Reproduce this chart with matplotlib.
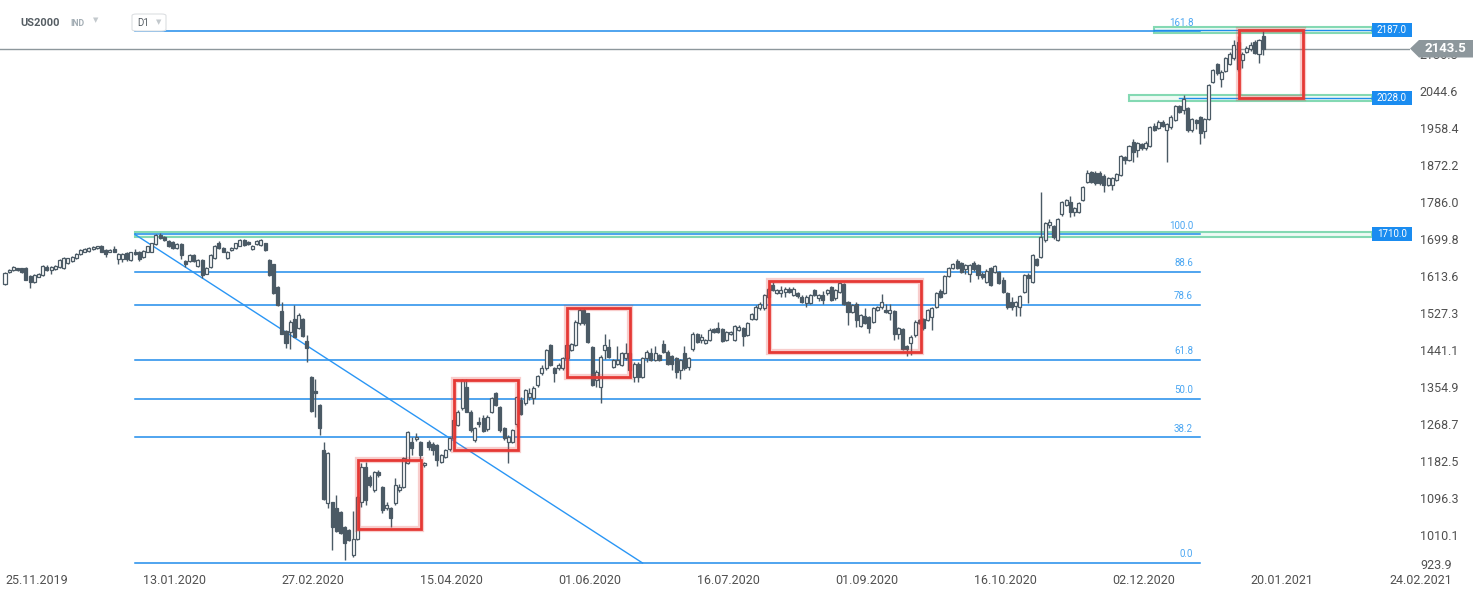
import matplotlib
matplotlib.use("Agg")
import matplotlib.pyplot as plt
from matplotlib.patches import Rectangle, Polygon, FancyBboxPatch

plt.rcParams['font.family'] = ['Roboto', 'DejaVu Sans']

# ---------------- data (daily candles, index 0 = 25.11.2019) ----------------
opens = [1594,1623,1627,1631,1631,1633,1613,1600,1612,1615,1635,1627,1629,1635,1631,1643,1648,1654,1664,1670,
         1671,1676,1678,1684,1674,1670,1676,1652,1652,1666,1650,1670,1670,1658,1670,1670,1687,1709,1703,1695,
         1693,1678,1687,1647,1647,1662,1637,1650,1619,1635,1654,1689,1679,1654,1674,1678,1684,1697,1692,1676,
         1687,1685,1689,1650,1640,1588,1531,1485,1483,1512,1491,1514,1462,1378,1345,1312,1207,1083,1085,1073,
         1062,1029,1021,963,1001,1085,1168,1145,1114,1157,1122,1073,1071,1083,1114,1122,1176,1225,1233,1227,
         1172,1227,1221,1219,1179,1192,1210,1235,1266,1305,1355,1297,1231,1273,1283,1256,1297,1340,1308,1259,
         1227,1227,1267,1324,1318,1330,1328,1359,1386,1398,1452,1399,1398,1398,1421,1441,1452,1503,1535,1526,
         1448,1371,1355,1441,1448,1402,1409,1406,1421,1433,1378,1409,1378,1421,1433,1417,1429,1455,1437,1427,
         1421,1394,1434,1402,1442,1478,1464,1458,1464,1489,1491,1489,1464,1478,1464,1487,1491,1476,1514,1514,
         1538,1538,1565,1592,1574,1574,1577,1584,1569,1573,1565,1551,1551,1581,1561,1569,1573,1588,1561,1577,
         1594,1553,1530,1549,1497,1520,1518,1507,1535,1540,1535,1526,1532,1479,1489,1450,1456,1475,1511,1512,
         1511,1518,1542,1579,1574,1613,1633,1649,1643,1629,1618,1644,1639,1619,1600,1631,1623,1623,1604,1574,
         1553,1544,1542,1577,1616,1600,1652,1658,1697,1732,1730,1697,1757,1779,1786,1763,1763,1790,1833,1856,
         1854,1854,1846,1825,1825,1837,1849,1891,1884,1926,1907,1921,1911,1916,1963,1958,1973,1954,1960,1977,
         2010,2001,2004,1954,1977,1983,1952,1979,2066,2108,2072,2092,2108,2121,2160,2118,2136,2142,2160,2132,
         2173]
highs = [1623,1630,1637,1633,1633,1635,1615,1617,1621,1639,1638,1637,1639,1652,1658,1656,1660,1666,1676,1678,
         1680,1683,1684,1686,1676,1676,1684,1666,1667,1668,1670,1676,1672,1673,1684,1691,1712,1713,1706,1697,
         1695,1690,1689,1650,1664,1665,1652,1652,1635,1664,1686,1694,1681,1672,1681,1691,1699,1699,1694,1686,
         1697,1699,1691,1652,1642,1590,1553,1488,1510,1546,1527,1516,1475,1380,1373,1314,1225,1203,1087,1103,
         1065,1031,1023,1064,1100,1178,1180,1150,1158,1160,1124,1085,1075,1143,1128,1190,1251,1238,1247,1229,
         1180,1230,1225,1221,1198,1210,1238,1280,1300,1374,1374,1300,1262,1285,1290,1288,1331,1343,1310,1262,
         1242,1257,1333,1330,1350,1353,1356,1383,1405,1444,1455,1402,1410,1424,1455,1458,1510,1538,1538,1528,
         1451,1393,1428,1478,1466,1420,1450,1436,1456,1436,1412,1412,1425,1440,1445,1450,1432,1464,1440,1430,
         1424,1420,1451,1424,1482,1481,1479,1467,1493,1492,1505,1492,1486,1486,1500,1498,1494,1506,1527,1545,
         1552,1572,1585,1600,1583,1590,1587,1587,1587,1576,1568,1568,1572,1584,1572,1578,1584,1591,1584,1599,
         1597,1556,1548,1552,1525,1538,1521,1541,1544,1571,1549,1549,1535,1494,1492,1453,1475,1510,1514,1515,
         1537,1541,1577,1582,1616,1634,1644,1652,1646,1642,1642,1647,1642,1622,1629,1634,1639,1626,1612,1577,
         1564,1556,1570,1619,1620,1665,1655,1810,1740,1745,1733,1748,1789,1793,1800,1774,1786,1824,1860,1859,
         1857,1857,1850,1844,1844,1854,1895,1894,1919,1933,1926,1924,1927,1963,1970,1976,1978,1971,1988,2013,
         2013,2035,2007,1982,1980,1986,1982,2062,2096,2111,2093,2124,2135,2163,2173,2135,2150,2160,2163,2167,
         2187]
lows = [1592,1620,1625,1625,1621,1603,1586,1598,1610,1613,1625,1619,1627,1633,1629,1641,1646,1652,1662,1668,
        1669,1674,1676,1668,1658,1668,1668,1640,1645,1648,1648,1662,1648,1656,1668,1668,1685,1699,1695,1680,
        1676,1676,1653,1635,1645,1645,1635,1609,1617,1633,1652,1677,1668,1652,1672,1676,1682,1683,1686,1674,
        1685,1683,1672,1613,1571,1544,1477,1446,1444,1470,1489,1471,1413,1297,1285,1242,1091,1071,974,1017,
        1011,951,996,959,998,1075,1080,1120,1110,1145,1060,1068,1029,1080,1110,1118,1174,1196,1228,1184,
        1168,1208,1195,1170,1176,1188,1205,1232,1263,1300,1295,1250,1225,1262,1250,1252,1294,1309,1250,1230,
        1176,1224,1262,1288,1312,1325,1315,1355,1383,1395,1403,1367,1395,1395,1418,1438,1449,1500,1500,1456,
        1356,1355,1318,1420,1423,1399,1405,1403,1418,1391,1367,1366,1375,1413,1414,1414,1414,1434,1406,1394,
        1376,1374,1395,1393,1439,1457,1458,1455,1461,1480,1480,1459,1461,1475,1461,1484,1450,1473,1511,1511,
        1535,1535,1562,1578,1571,1565,1564,1574,1566,1563,1550,1540,1548,1566,1556,1548,1570,1554,1558,1574,
        1546,1500,1527,1495,1494,1501,1481,1504,1532,1537,1527,1510,1465,1466,1441,1426,1430,1472,1501,1488,
        1508,1488,1539,1562,1571,1610,1630,1630,1620,1619,1600,1626,1606,1606,1597,1589,1620,1595,1574,1537,
        1535,1520,1520,1574,1550,1597,1636,1655,1693,1725,1700,1694,1754,1776,1750,1752,1760,1787,1830,1830,
        1826,1826,1810,1822,1814,1834,1846,1875,1881,1880,1890,1908,1908,1913,1951,1955,1960,1878,1957,1974,
        1993,1990,1950,1950,1955,1920,1935,1976,2063,2083,2055,2089,2105,2118,2092,2098,2133,2139,2131,2110,
        2128]
closes = [1621,1627,1635,1627,1623,1605,1600,1615,1619,1637,1627,1635,1637,1650,1656,1654,1658,1664,1674,1676,
          1678,1681,1682,1670,1664,1674,1670,1664,1664,1652,1668,1664,1652,1671,1682,1689,1709,1701,1697,1682,
          1679,1687,1661,1640,1662,1647,1650,1615,1633,1662,1684,1679,1670,1670,1679,1689,1697,1685,1688,1684,
          1695,1697,1674,1615,1573,1546,1479,1458,1507,1472,1522,1473,1446,1299,1340,1259,1093,1200,1029,1019,
          1013,990,998,1001,1098,1168,1090,1126,1155,1148,1067,1079,1048,1126,1122,1188,1249,1213,1238,1196,
          1176,1215,1207,1184,1196,1207,1235,1277,1297,1371,1297,1254,1258,1267,1252,1285,1328,1312,1254,1235,
          1238,1254,1331,1292,1347,1341,1353,1380,1398,1441,1406,1388,1406,1421,1452,1455,1507,1535,1503,1460,
          1359,1390,1425,1452,1425,1417,1417,1433,1433,1394,1409,1378,1421,1437,1417,1433,1417,1437,1409,1409,
          1390,1417,1398,1421,1479,1460,1470,1464,1487,1483,1483,1462,1483,1483,1497,1495,1473,1503,1524,1542,
          1549,1569,1582,1581,1580,1580,1584,1577,1584,1566,1553,1565,1569,1569,1569,1557,1581,1557,1581,1596,
          1549,1530,1545,1511,1522,1504,1491,1538,1541,1553,1530,1534,1479,1491,1444,1442,1472,1507,1504,1491,
          1534,1538,1574,1565,1613,1631,1641,1633,1623,1639,1639,1629,1616,1612,1626,1592,1636,1598,1577,1540,
          1542,1552,1567,1616,1608,1662,1639,1705,1737,1740,1705,1745,1786,1790,1763,1771,1783,1821,1853,1833,
          1829,1829,1825,1841,1841,1851,1892,1884,1916,1903,1923,1911,1924,1960,1954,1973,1963,1968,1985,2010,
          1996,2025,1954,1979,1969,1946,1979,2059,2093,2086,2090,2121,2132,2152,2095,2132,2146,2152,2134,2164,
          2143.5]

date_labels = ["25.11.2019", "13.01.2020", "27.02.2020", "15.04.2020", "01.06.2020", "16.07.2020",
               "01.09.2020", "16.10.2020", "02.12.2020", "20.01.2021", "24.02.2021"]
date_label_bars = [0, 33, 66, 99, 132, 165, 198, 231, 264, 297, 330]

price_ticks = [1010.1, 1096.3, 1182.5, 1268.7, 1354.9, 1441.1, 1527.3, 1613.6, 1699.8,
               1786.0, 1872.2, 1958.4, 2044.6, 2130.8]
bottom_price_label = 923.9

fib_ratios = [0.0, 38.2, 50.0, 61.8, 78.6, 88.6, 100.0, 161.8]
fib_low, fib_high = 944.0, 1710.0
fib_start_bar, fib_end_bar, fib_low_bar = 31, 285, 152

hlines = [2187.0, 2028.0, 1710.0]
hline_start_bars = [274, 268, 31]
last_price = 2143.5

# red boxes: (bar_start, bar_end, price_low, price_high)
red_boxes = [(84.2, 99.3, 1023, 1184), (107.1, 122.2, 1207, 1371), (133.9, 149.0, 1377, 1538),
             (182.2, 218.3, 1437, 1602), (294.2, 309.4, 2029, 2187)]

# ---------------- figure ----------------
W, H = 1482, 598
fig = plt.figure(figsize=(W / 100, H / 100), dpi=100)
fig.patch.set_facecolor('white')
ax_bottom_px = 572
ax = fig.add_axes([0, (H - ax_bottom_px) / H, 1410 / W, ax_bottom_px / H])
px_per_bar = 4.194
ppu = 2.332  # price units per pixel
ax.set_xlim(-5 / px_per_bar, 1405 / px_per_bar)
ax.set_ylim(2044.6 - (ax_bottom_px - 91) * ppu, 2044.6 + 91 * ppu)
for s in ax.spines.values():
    s.set_visible(False)

dark = '#4b5a65'
n = len(closes)
idx = list(range(n))
# wicks
ax.vlines(idx, lows, highs, color=dark, lw=1.0, zorder=3)
# bodies
for i in idx:
    o, c = opens[i], closes[i]
    lo, hi = min(o, c), max(o, c)
    if hi - lo < 2.5:
        hi = lo + 2.5
    up = c >= o
    ax.add_patch(Rectangle((i - 0.36, lo), 0.72, hi - lo,
                           facecolor='white' if up else dark, edgecolor=dark, lw=0.9, zorder=4))

# fib lines
fib_blue = '#1f8ceb'
for r in fib_ratios:
    lvl = fib_low + (fib_high - fib_low) * r / 100.0
    ax.plot([fib_start_bar, fib_end_bar], [lvl, lvl], color=fib_blue, lw=1.1, zorder=2)
    ax.annotate(f"{r:.1f}", xy=(283.3, lvl), xytext=(0, 2.5), textcoords='offset points',
                ha='right', va='bottom', fontsize=7, color='#4aa6f2', zorder=5)
# diagonal trend line of the fib tool
ax.plot([fib_start_bar, fib_low_bar], [fib_high, fib_low], color='#2a96f5', lw=1.0, zorder=2)

# horizontal levels (green highlighted bands) + blue labels
band_h = 5.5 * ppu
right_bar = 326
for lvl, sb in zip(hlines, hline_start_bars):
    ax.add_patch(Rectangle((sb, lvl - band_h / 2), right_bar - sb, band_h, facecolor='#eefaf4',
                           edgecolor='#84d9b3', lw=1.5, zorder=1))
    if lvl != 1710.0:
        ax.plot([sb + (12 if lvl == 2028.0 else 0), right_bar], [lvl, lvl], color=fib_blue, lw=1.0, zorder=2)
    bh = 14 * ppu
    ax.add_patch(Rectangle((right_bar, lvl - bh / 2), 9.4, bh, facecolor='#1a8cf0',
                           edgecolor='none', zorder=6, clip_on=False))
    ax.text(right_bar + 4.7, lvl, f"{lvl:.1f}", ha='center', va='center', fontsize=7,
            color='white', zorder=7, clip_on=False)

# current price line
ax.axhline(last_price, color='#8d979c', lw=1.0, zorder=2)

# red boxes
for b0, b1, p0, p1 in red_boxes:
    ax.add_patch(Rectangle((b0, p0), b1 - b0, p1 - p0, facecolor='none', edgecolor='#e53935',
                           lw=4.5, alpha=0.25, zorder=5))
    ax.add_patch(Rectangle((b0, p0), b1 - b0, p1 - p0, facecolor='none', edgecolor='#e53935',
                           lw=2.0, zorder=5))

# axes ticks
ax.yaxis.tick_right()
ax.set_yticks(price_ticks)
ax.set_yticklabels([f"{v:.1f}" for v in price_ticks])
ax.tick_params(axis='y', length=0, pad=7, labelsize=9, labelcolor='#505050')
ax.set_xticks(date_label_bars)
ax.set_xticklabels(date_labels, ha='left')
ax.tick_params(axis='x', length=0, pad=1.5, labelsize=9, labelcolor='#505050')

# figure pixel helpers
def fx(x):
    return x / W
def fy(y):
    return 1 - y / H

# lowest price label sits pushed up inside the axis area, as in the reference
fig.text(fx(1420), fy(565.5), f"{bottom_price_label:.1f}", ha='left', va='center', fontsize=9,
         color='#505050')

# price tag
tag_y = 91 - (last_price - 2044.6) / ppu
tag = Polygon([(fx(1410), fy(tag_y)), (fx(1419), fy(40)), (fx(1473), fy(40)),
               (fx(1473), fy(57.5)), (fx(1419), fy(57.5))], closed=True,
              transform=fig.transFigure, facecolor='#8d979c', edgecolor='none', zorder=10)
fig.patches.append(tag)
fig.text(fx(1445), fy(tag_y), f"{last_price:.1f}", ha='center', va='center', fontsize=9.5,
         fontweight='bold', color='white', zorder=11)

# header
fig.text(fx(20), fy(22.5), "US2000", ha='left', va='center', fontsize=8, fontweight='bold',
         color='#555d63', zorder=11)
fig.text(fx(70.5), fy(23.5), "IND", ha='left', va='center', fontsize=6.3, fontweight='bold',
         color='#a3adb4', zorder=11)
fig.text(fx(95.5), fy(21), "\u25BC", ha='center', va='center', fontsize=5, color='#c3c9cd', zorder=11)
box = FancyBboxPatch((fx(132), fy(31)), fx(34), 17 / H, boxstyle="round,pad=0,rounding_size=0.003",
                     transform=fig.transFigure, facecolor='white', edgecolor='#dcdfe2', lw=0.8, zorder=10)
fig.patches.append(box)
fig.text(fx(137), fy(23), "D1", ha='left', va='center', fontsize=7, color='#555d63', zorder=11)
fig.text(fx(159), fy(23), "\u25BC", ha='center', va='center', fontsize=5, color='#c3c9cd', zorder=11)

fig.savefig("out.png", dpi=100, facecolor='white')
